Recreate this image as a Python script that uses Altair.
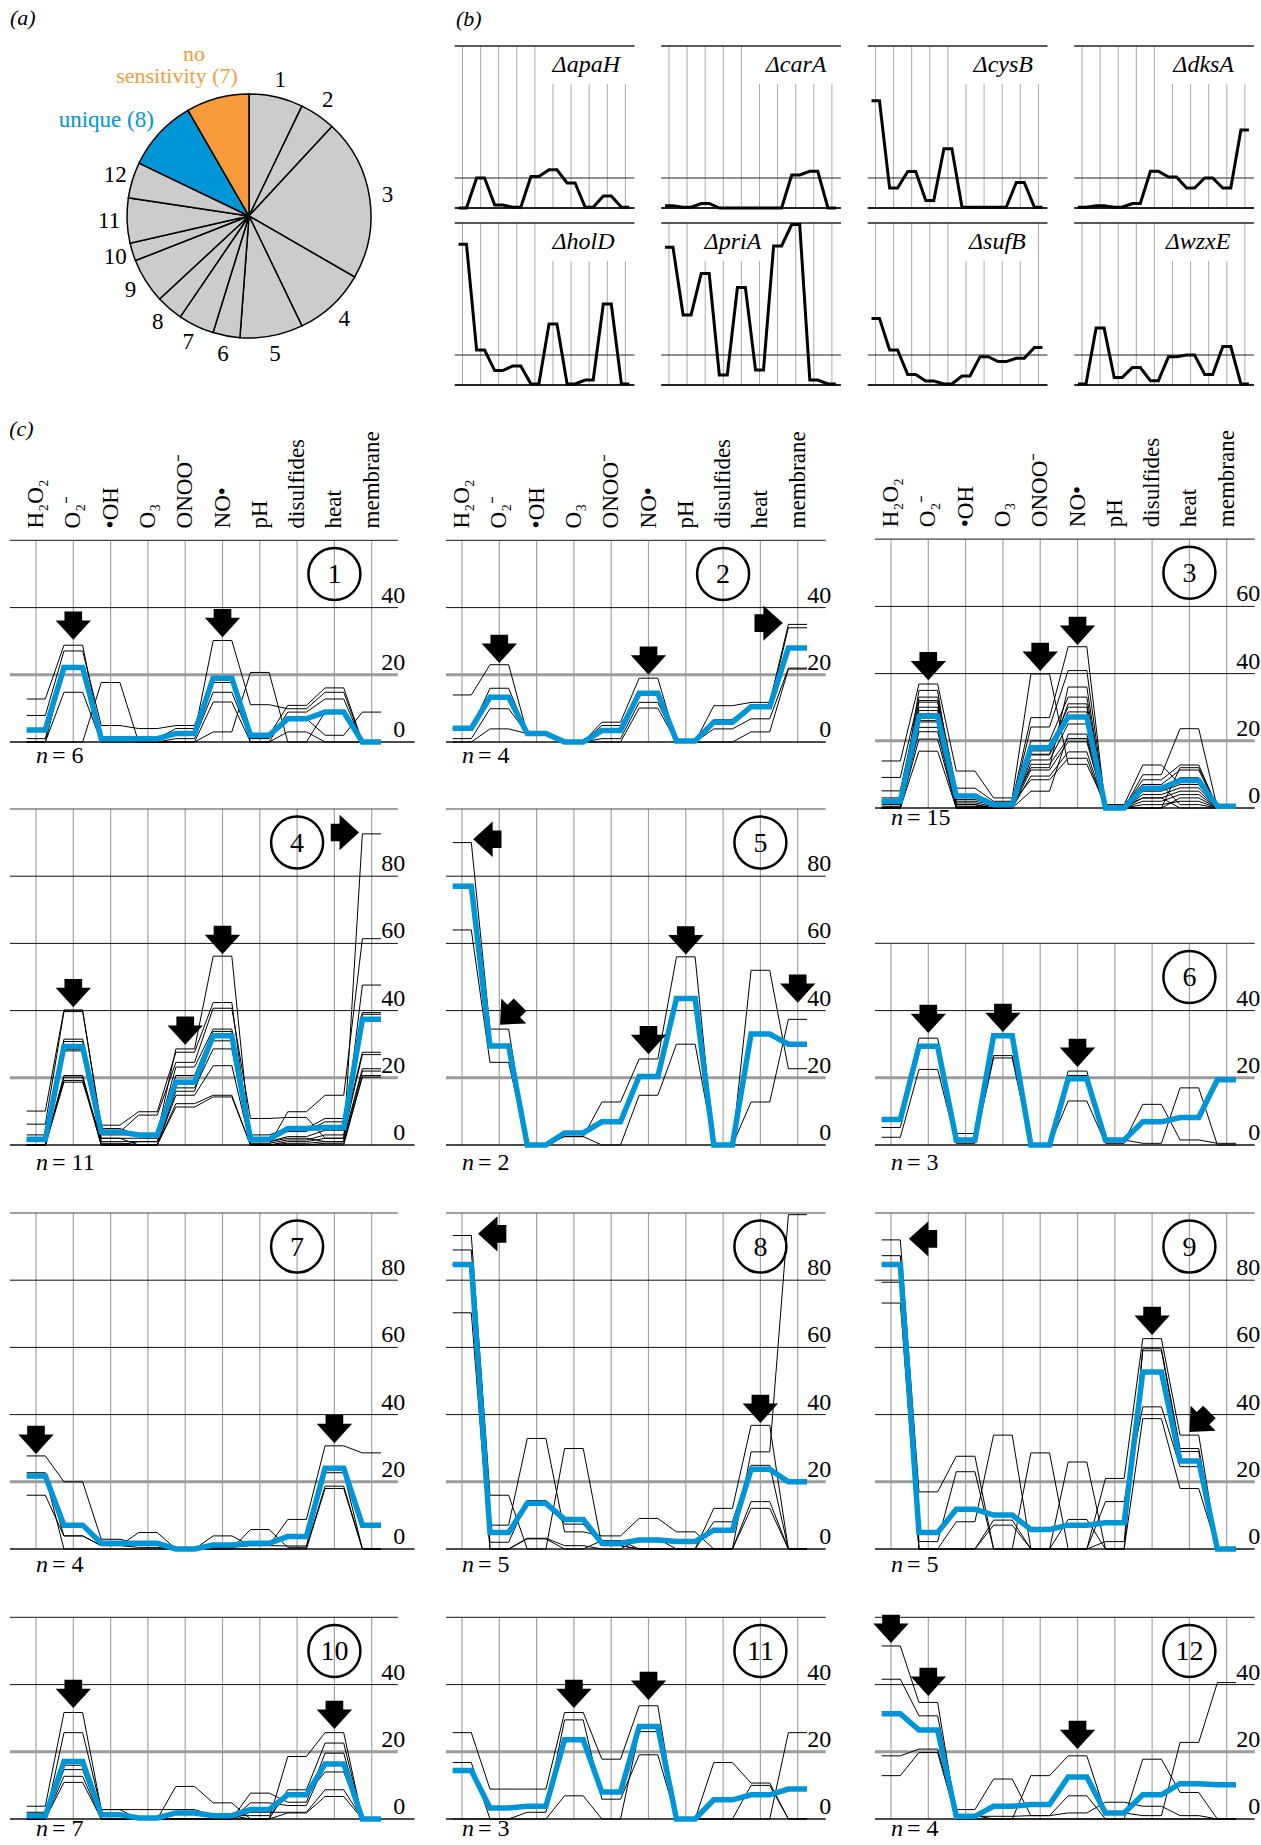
import altair as alt
import pandas as pd

FONT = "Liberation Serif"
BLUE = "#0095d6"
ORANGE = "#f79a3b"
GREY_FILL = "#cccccc"

# ---------------------------------------------------------------- data
CATEGORIES = ["H₂O₂", "O₂⁻", "•OH", "O₃", "ONOO⁻", "NO•", "pH",
              "disulfides", "heat", "membrane"]

# (a) genes per cluster
PIE_NAMES = ["1", "2", "3", "4", "5", "6", "7", "8", "9", "10", "11", "12",
             "unique", "no sensitivity"]
PIE_COUNTS = [6, 4, 18, 8, 7, 3, 4, 3, 5, 2, 5, 4, 8, 7]

# (b) single mutants
MUTANTS = ["ΔapaH", "ΔcarA", "ΔcysB", "ΔdksA", "ΔholD", "ΔpriA", "ΔsufB", "ΔwzxE"]
APAH = [0, 20, 2, 0.5, 21, 25.5, 16.7, 0.5, 8, 0.5]
CARA = [1.5, 0.5, 3, 0, 0, 0, 0, 22, 24.5, 0]
CYSB = [71.5, 13.3, 24.4, 5, 39.5, 0.5, 0.5, 0.5, 17, 0.5]
DKSA = [0.5, 1.5, 0.5, 3, 24.5, 20.6, 13.3, 20, 13.3, 52]
HOLD = [93.8, 23.3, 9.6, 12.7, 0.7, 40.7, 0.7, 3.3, 54, 0.7]
PRIA = [91.8, 46.7, 74.4, 6.7, 65, 10, 92.7, 107, 3.3, 0.7]
SUFB = [44.4, 23.3, 7, 2.7, 0.7, 6, 18.9, 15.6, 17.8, 25]
WZXE = [0.7, 38, 5, 11.6, 2.9, 18.9, 20, 7, 25.6, 0.7]
MUTANT_PROFILES = [APAH, CARA, CYSB, DKSA, HOLD, PRIA, SUFB, WZXE]

# (c) cluster profiles: cluster average and member genes
C1_MEAN = [3.6, 22.2, 1, 1, 2.5, 19, 2, 6.9, 8.9, 0]
C1_GENES = [
    [12.8, 28.8, 1, 1, 2.5, 30.2, 11.1, 9.9, 14.8, 0],
    [7.9, 27.1, 4.9, 4, 4.9, 19, 2, 10.9, 16.1, 0],
    [1, 22, 1, 1, 4, 17.7, 0, 8.9, 12.8, 0],
    [0, 22, 1, 0, 1, 14.8, 1, 6.9, 2, 8.9],
    [0, 14.8, 0, 0, 0, 11.9, 0, 3, 0, 0],
    [0, 0, 17.7, 0, 0, 3, 20.7, 0, 8.9, 0],
]
C1_ARROWS = [(1, 30.4, 0), (5, 31.2, 0)]

C2_MEAN = [4.1, 13.3, 2.5, 0, 3.4, 14.5, 0.3, 5.9, 10.5, 28]
C2_GENES = [
    [14, 23, 2.5, 0, 5.9, 19, 0, 10.8, 11.8, 35],
    [4, 16, 2.5, 0, 4.9, 14.8, 0, 6.6, 10.8, 34],
    [1, 9.9, 2.5, 0, 1, 11.8, 0, 3.9, 6.9, 22],
    [0, 3.9, 2.5, 0, 0, 10.1, 0, 0, 3, 21.7],
]
C2_ARROWS = [(1, 23.5, 0), (5, 20, 0), (8.6, 35.4, 270)]

C3_MEAN = [2, 27.3, 3.6, 1, 17.9, 27.1, 0, 5.9, 8.2, 0.5]
C3_GENES = [
    [14, 36.9, 11, 3, 39.9, 13, 1, 12.8, 7, 0],
    [9.1, 33, 5.9, 2, 26.9, 48, 0, 9.9, 23.6, 0],
    [5.1, 31.5, 3.6, 1, 24.1, 40.9, 0, 8.4, 12.8, 0],
    [3, 30, 2, 1, 20, 33, 1, 7, 11.3, 0],
    [2, 29, 1.5, 0.5, 18, 30, 0, 6, 9, 0],
    [1.5, 27.3, 1, 0, 17, 28.6, 0, 5.9, 8.2, 0],
    [1, 25.6, 1, 0, 15.8, 27, 0, 5, 7, 0],
    [0.5, 24, 0.5, 0, 14.3, 25, 0, 4, 6, 0],
    [0, 22.7, 0, 0, 13, 20.7, 0, 3, 5, 0],
    [0, 20.5, 0, 0, 11.3, 19.7, 0, 2, 4, 0],
    [0, 16.9, 0, 0, 9.5, 16.7, 0, 1, 2, 0],
    [0, 28, 2.5, 1.5, 8.4, 14.8, 0, 0, 3, 0],
    [2, 32, 0, 0, 5, 22, 0.5, 3, 0, 0],
    [0, 26, 4, 0, 16, 31, 0, 0, 12, 0.5],
    [0, 35, 0, 1, 12, 36, 0, 7, 1, 0],
]
C3_ARROWS = [(1, 38, 0), (4, 40.8, 0), (5, 48.5, 0)]

C4_MEAN = [1.7, 29.3, 3.9, 3, 18.7, 32.5, 1.7, 4.9, 5.2, 37.4]
C4_GENES = [
    [10.1, 40.2, 4.9, 3, 28.6, 56.2, 1, 2, 1, 92.6],
    [6.2, 39.7, 5.9, 9.9, 27.6, 42.4, 0, 9.9, 14.8, 61.4],
    [3, 31.5, 3.9, 8.9, 24.6, 40.7, 7.9, 8.2, 2, 47.6],
    [1.7, 30.8, 3, 3, 23.2, 34.5, 3, 4.9, 7.9, 39.4],
    [1, 29.3, 2, 2, 20.7, 33.8, 1.7, 4, 6.9, 38.9],
    [0, 28, 1, 1, 18.7, 31, 1, 2.5, 4.4, 27.6],
    [0, 20.7, 0, 1, 17, 28.6, 0.5, 1.5, 3, 26.9],
    [0, 20.2, 0, 0, 14.8, 23.6, 0, 1, 2, 22.7],
    [0, 19.2, 0, 0, 12.3, 14.8, 0, 0.5, 1, 22],
    [0, 18.7, 2, 0, 11.3, 14.3, 0, 0, 0, 20.7],
    [0, 28.5, 0.5, 0, 16, 32, 0, 0, 0.5, 20.2],
]
C4_ARROWS = [(1, 41, 0), (4, 29.8, 0), (5, 56.8, 0), (8.66, 93, 270)]

C5_MEAN = [77, 29.5, 0, 3.6, 6.9, 20.4, 43.6, 0, 33, 30]
C5_GENES = [
    [90, 34.5, 0, 2.5, 12.8, 25.6, 56, 0, 52, 22.7],
    [64, 24.6, 0, 2.5, 0, 14.8, 30, 0, 12.8, 37.4],
]
C5_ARROWS = [(0.3, 91, 90), (1.02, 35.8, 45), (5, 27, 0), (6, 56.7, 0), (9, 42.3, 0)]

C6_MEAN = [7.6, 29.4, 1.5, 32.5, 0, 19.7, 1.5, 6.9, 8.2, 19.4]
C6_GENES = [
    [7.6, 31.8, 3.4, 32.5, 0, 22, 1, 12.1, 1.5, 0.5],
    [5.2, 29, 1, 26.6, 0, 20.7, 1.5, 0.5, 17, 0],
    [2.3, 22.5, 0.5, 25.9, 0, 13.1, 0.5, 6.9, 8.2, 19.4],
]
C6_ARROWS = [(1, 33.3, 0), (3, 33.6, 0), (5, 23.2, 0)]

C7_MEAN = [21.7, 7.1, 1.7, 1.7, 0, 1.2, 1.7, 3.7, 24, 7.1]
C7_GENES = [
    [27.7, 20, 2.9, 1.5, 0, 0.5, 1, 8.8, 30.7, 28.6],
    [22.7, 3.9, 1, 4.9, 0, 3.9, 1, 0.9, 22.7, 0],
    [16, 3.9, 1, 0.5, 0, 0, 5.8, 0.5, 18.7, 0],
    [21.7, 0, 0, 0, 0, 0, 0, 0, 18, 0],
]
C7_ARROWS = [(0, 28.3, 0), (8, 31.5, 0)]

C8_MEAN = [84.7, 4.9, 13.6, 8.8, 1.7, 2.7, 2.2, 5.6, 23.7, 20]
C8_GENES = [
    [93.3, 16, 0, 29.9, 1, 0, 0, 12.1, 36.8, 0],
    [89, 7.1, 32.9, 5.1, 3.9, 9.1, 5.1, 0, 28.9, 99.5],
    [84.7, 2, 14.4, 7.4, 1, 0, 0, 8.1, 24.9, 0],
    [70.3, 0, 3.2, 1, 0, 3, 0, 0, 14.1, 0],
    [84.7, 0, 3, 0, 2.5, 0, 0, 0, 12.1, 0],
]
C8_ARROWS = [(0.43, 93.8, 90), (8, 37.5, 0)]

C9_MEAN = [84.7, 4.9, 11.8, 10.1, 5.8, 7.1, 7.8, 52.7, 26.2, 0]
C9_GENES = [
    [92, 17, 27.6, 0, 0, 0, 21, 62.6, 33.9, 0],
    [87.3, 2.2, 23, 0, 28.6, 0, 2.2, 59.6, 29.9, 0],
    [79.4, 0, 8.1, 33.9, 0, 0, 14.1, 42.3, 24.5, 0],
    [73.2, 0, 0, 8.6, 0, 25.9, 0, 38.8, 18, 0],
    [84.7, 0, 0, 7.1, 0, 8.8, 0, 59, 29, 0],
]
C9_ARROWS = [(0.48, 92.3, 90), (7, 63.7, 0), (8, 34.8, 45)]

C10_MEAN = [1, 17.1, 1.3, 0.3, 1.8, 1, 2.8, 7.2, 16.4, 0]
C10_GENES = [
    [3.8, 31.7, 2.8, 2.8, 2.8, 1, 0, 18.6, 25.7, 0],
    [0, 25.7, 2.8, 0, 9.7, 4.8, 0, 8.7, 22.6, 0],
    [1, 17, 1, 0, 0, 0, 7.7, 5, 19.6, 0],
    [0, 14.7, 0, 0, 0, 0, 4.8, 4, 16.4, 0],
    [0, 12.7, 0, 0, 0, 0, 2, 2, 8.7, 0],
    [0, 10.9, 0, 0, 0, 0, 0, 1.8, 6.7, 0],
    [2, 16, 1.5, 0.5, 1.8, 1, 1, 7.2, 14, 0],
]
C10_ARROWS = [(1, 33, 0), (8, 26.8, 0)]

C11_MEAN = [14.4, 3.3, 3.8, 23.6, 8, 27.5, 0, 5.7, 7.2, 8.9]
C11_GENES = [
    [25.7, 8.9, 8.9, 31.7, 17.8, 33.7, 0, 16.8, 10.7, 0],
    [16.8, 0, 2, 29.5, 5.9, 19.1, 0, 0, 0, 25.7],
    [0, 0, 0, 6.9, 0, 26, 0, 0, 10, 0],
]
C11_ARROWS = [(3, 33, 0), (5, 35.4, 0)]

C12_MEAN = [31.3, 26.5, 0.8, 3.8, 4.3, 12.5, 1.8, 7.2, 10.5, 10.2]
C12_GENES = [
    [51.5, 34.7, 1, 0, 12.9, 18.8, 1.8, 1, 22.8, 40.6],
    [41.6, 30.7, 2.8, 11.9, 1, 6.9, 0, 17.8, 7.9, 0],
    [18.8, 20.8, 0.8, 0.8, 1, 1.8, 5, 3.8, 1, 0],
    [12.9, 19.8, 0, 0, 0, 0, 0, 0, 0, 0],
]
C12_ARROWS = [(0, 52.4, 0), (1, 36.6, 0), (5, 20.8, 0)]

CLUSTERS = [
    (C1_MEAN, C1_GENES, C1_ARROWS), (C2_MEAN, C2_GENES, C2_ARROWS),
    (C3_MEAN, C3_GENES, C3_ARROWS), (C4_MEAN, C4_GENES, C4_ARROWS),
    (C5_MEAN, C5_GENES, C5_ARROWS), (C6_MEAN, C6_GENES, C6_ARROWS),
    (C7_MEAN, C7_GENES, C7_ARROWS), (C8_MEAN, C8_GENES, C8_ARROWS),
    (C9_MEAN, C9_GENES, C9_ARROWS), (C10_MEAN, C10_GENES, C10_ARROWS),
    (C11_MEAN, C11_GENES, C11_ARROWS), (C12_MEAN, C12_GENES, C12_ARROWS),
]

# ---------------------------------------------------------------- layout
# (c) grid: column, baseline row, axis top, stressor carrying the circled
#           number, gap below the baseline for the n label
C_X0 = [36, 462, 891]
C_XL = [-0.7, -0.43, -0.43]
C_XR = [9.7, 9.75, 9.75]
C_STEP = 37.3
C_PX = 3.36
C_LAYOUT = [
    (0, 742, 60, 8, 21), (1, 742, 60, 7, 21), (2, 808, 80, 8, 17),
    (0, 1145, 100, 7, 25), (1, 1145, 100, 8, 25), (2, 1145, 60, 8, 25),
    (0, 1549, 100, 7, 23), (1, 1549, 100, 8, 23), (2, 1549, 100, 8, 23),
    (0, 1819, 60, 8, 17), (1, 1819, 60, 8, 17), (2, 1819, 60, 8, 17),
]

B_LEFT = [455, 661.5, 868, 1074.5]
B_ZERO = [208, 385]
B_STEP = 18.1
B_PX = 1.5
B_TOP = 108
# right end of each mutant name, in stressor units
B_TITLE_END = [8.7, 8.7, 8.7, 8.4, 8.4, 5.1, 8.3, 8.2]

PIE_CX, PIE_CY, PIE_R = 249, 216, 122

# block arrow, tip at the origin, pointing down
ARROW = "M0,0 L-1,-1.1 L-0.5,-1.1 L-0.5,-1.6 L0.5,-1.6 L0.5,-1.1 L1,-1.1 Z"


def plateau_frame(rows, half):
    recs = []
    for k, values in enumerate(rows):
        for i, v in enumerate(values):
            for off in (-half, half):
                recs.append({"series": k, "pos": i + off, "value": v})
    return pd.DataFrame(recs)


def cluster_panel(num, mean, genes, arrows, col, zero_px, top, circle_pos, n_dy):
    xs = alt.Scale(domain=[0, 9], range=[C_X0[col], C_X0[col] + 9 * C_STEP], nice=False)
    ys = alt.Scale(domain=[0, top], range=[zero_px, zero_px - top * C_PX], nice=False)

    def X(f):
        return alt.X(f, type="quantitative", scale=xs, axis=None)

    def Y(f):
        return alt.Y(f, type="quantitative", scale=ys, axis=None)

    layers = []
    vgrid = pd.DataFrame({"pos": list(range(10)), "lo": 0, "hi": top})
    layers.append(alt.Chart(vgrid).mark_rule(color="#a3a3a3", strokeWidth=1.2).encode(
        x=X("pos"), y=Y("lo"), y2=alt.Y2("hi")))

    levels = list(range(0, top + 1, 20))
    hgrid = pd.DataFrame({
        "level": levels,
        "xa": C_XL[col],
        "xb": [C_XR[col] + (0.45 if (l == 0 and col == 0) else 0) for l in levels],
        "stroke": ["#111111" if l == 0 else "#9b9b9b" if l == 20 else
                   "#444444" if l == top else "#111111" for l in levels],
        "w": [1.4 if l == 0 else 3 if l == 20 else 1.2 if l == top else 1 for l in levels],
    })
    layers.append(alt.Chart(hgrid).mark_rule().encode(
        y=Y("level"), x=X("xa"), x2=alt.X2("xb"),
        color=alt.Color("stroke:N", scale=None),
        strokeWidth=alt.StrokeWidth("w:Q", scale=None)))

    ticks = pd.DataFrame({"level": [l for l in levels if l < top]})
    ticks["pos"] = 9.9
    ticks["txt"] = ticks["level"].astype(str)
    layers.append(alt.Chart(ticks).mark_text(
        align="right", baseline="bottom", font=FONT, fontSize=24, color="black").encode(
        x=X("pos"), y=Y("level"), text="txt:N"))

    if num <= 3:
        hdr = pd.DataFrame({"pos": list(range(10)), "lvl": top, "name": CATEGORIES})
        layers.append(alt.Chart(hdr).mark_text(
            angle=270, align="left", baseline="middle", dx=12, font=FONT,
            fontSize=23, color="black").encode(x=X("pos"), y=Y("lvl"), text="name:N"))

    layers.append(alt.Chart(plateau_frame(genes, 0.25)).mark_line(
        color="black", strokeWidth=1).encode(
        x=X("pos"), y=Y("value"), detail="series:N", order="pos:Q"))
    layers.append(alt.Chart(plateau_frame([mean], 0.25)).mark_line(
        color=BLUE, strokeWidth=5.5).encode(
        x=X("pos"), y=Y("value"), order="pos:Q"))

    arr = pd.DataFrame(arrows, columns=["pos", "value", "ang"])
    layers.append(alt.Chart(arr).mark_point(
        shape=ARROW, filled=True, color="black", opacity=1, size=1250).encode(
        x=X("pos"), y=Y("value"), angle=alt.Angle("ang:Q", scale=None)))

    badge = pd.DataFrame({"pos": [circle_pos], "lvl": [top - 10], "txt": [str(num)]})
    layers.append(alt.Chart(badge).mark_point(
        shape="circle", filled=False, color="black", strokeWidth=2.5, opacity=1,
        size=2704).encode(x=X("pos"), y=Y("lvl")))
    layers.append(alt.Chart(badge).mark_text(
        font=FONT, fontSize=28, baseline="middle", dy=1, color="black").encode(
        x=X("pos"), y=Y("lvl"), text="txt:N"))

    nlab = pd.DataFrame({"pos": [0], "lvl": [0], "txt": [f"= {len(genes)}"]})
    layers.append(alt.Chart(nlab).mark_text(
        text="n", font=FONT, fontSize=24, fontStyle="italic", align="left",
        baseline="alphabetic", dy=n_dy, color="black").encode(x=X("pos"), y=Y("lvl")))
    layers.append(alt.Chart(nlab).mark_text(
        font=FONT, fontSize=24, align="left", baseline="alphabetic", dx=16, dy=n_dy,
        color="black").encode(x=X("pos"), y=Y("lvl"), text="txt:N"))

    if num == 1:
        tag = pd.DataFrame({"pos": [-0.72], "lvl": [93.2]})
        layers.append(alt.Chart(tag).mark_text(
            text="(c)", font=FONT, fontSize=22, fontStyle="italic", align="left",
            baseline="middle", color="black").encode(x=X("pos"), y=Y("lvl")))

    return alt.layer(*layers)


def mutant_panel(idx, name, values):
    r, c = divmod(idx, 4)
    x0 = B_LEFT[c] + 7.5
    zero = B_ZERO[r]
    xs = alt.Scale(domain=[0, 9], range=[x0, x0 + 9 * B_STEP], nice=False)
    ys = alt.Scale(domain=[0, B_TOP], range=[zero, zero - B_TOP * B_PX], nice=False)

    def X(f):
        return alt.X(f, type="quantitative", scale=xs, axis=None)

    def Y(f):
        return alt.Y(f, type="quantitative", scale=ys, axis=None)

    end = B_TITLE_END[idx]
    layers = []
    vgrid = pd.DataFrame({"pos": list(range(10)), "lo": 0,
                          "hi": [82.7 if end - 3.9 <= i <= end + 0.6 else B_TOP
                                 for i in range(10)]})
    layers.append(alt.Chart(vgrid).mark_rule(color="#ababab", strokeWidth=1).encode(
        x=X("pos"), y=Y("lo"), y2=alt.Y2("hi")))
    hgrid = pd.DataFrame({"level": [0, 20, B_TOP], "xa": -0.43, "xb": 9.5,
                          "w": [2, 1.2, 1.5]})
    layers.append(alt.Chart(hgrid).mark_rule(color="#222222").encode(
        y=Y("level"), x=X("xa"), x2=alt.X2("xb"),
        strokeWidth=alt.StrokeWidth("w:Q", scale=None)))
    layers.append(alt.Chart(plateau_frame([values], 0.22)).mark_line(
        color="black", strokeWidth=3).encode(x=X("pos"), y=Y("value"), order="pos:Q"))
    title = pd.DataFrame({"pos": [end], "lvl": [91], "txt": [name]})
    layers.append(alt.Chart(title).mark_text(
        font=FONT, fontSize=24, fontStyle="italic", align="right", baseline="alphabetic",
        color="black").encode(x=X("pos"), y=Y("lvl"), text="txt:N"))
    if idx == 0:
        tag = pd.DataFrame({"pos": [-0.36], "lvl": [126]})
        layers.append(alt.Chart(tag).mark_text(
            text="(b)", font=FONT, fontSize=22, fontStyle="italic", align="left",
            baseline="middle", color="black").encode(x=X("pos"), y=Y("lvl")))
    return alt.layer(*layers)


def pie_panel():
    pxs = alt.Scale(domain=[-1, 1], range=[PIE_CX - PIE_R, PIE_CX + PIE_R], nice=False)
    pys = alt.Scale(domain=[-1, 1], range=[PIE_CY + PIE_R, PIE_CY - PIE_R], nice=False)
    df = pd.DataFrame({"name": PIE_NAMES, "count": PIE_COUNTS,
                       "idx": list(range(len(PIE_NAMES)))})
    df["group"] = ["cluster"] * 12 + ["unique", "none"]
    df["num"] = [n if i < 12 else "" for i, n in enumerate(PIE_NAMES)]
    cx = alt.X(datum=0, type="quantitative", scale=pxs, axis=None)
    cy = alt.Y(datum=0, type="quantitative", scale=pys, axis=None)
    base = alt.Chart(df).encode(
        theta=alt.Theta("count:Q", stack=True), order=alt.Order("idx:Q"), x=cx, y=cy)
    arcs = base.mark_arc(radius=PIE_R, stroke="black", strokeWidth=1.5).encode(
        color=alt.Color("group:N", legend=None,
                        scale=alt.Scale(domain=["cluster", "unique", "none"],
                                        range=[GREY_FILL, BLUE, ORANGE])))
    nums = base.mark_text(radius=140, font=FONT, fontSize=23, color="black",
                          baseline="middle").encode(text="num:N")

    def note(txt, px, py, colour, align, size=23, italic=False):
        d = pd.DataFrame({"px": [px], "py": [py]})
        return alt.Chart(d).mark_text(
            text=txt, font=FONT, fontSize=size, color=colour,
            align=align, baseline="middle",
            fontStyle="italic" if italic else "normal").encode(
            x=alt.X("px:Q", scale=pxs, axis=None), y=alt.Y("py:Q", scale=pys, axis=None))

    return alt.layer(
        arcs, nums,
        note("unique (8)", -0.78, 0.79, BLUE, "right"),
        note("no", -0.45, 1.33, ORANGE, "center", size=22),
        note("sensitivity (7)", -0.59, 1.145, ORANGE, "center", size=22),
        note("(a)", -1.96, 1.62, "black", "left", size=22, italic=True),
    )


panels = [pie_panel()]
for i, (name, prof) in enumerate(zip(MUTANTS, MUTANT_PROFILES)):
    panels.append(mutant_panel(i, name, prof))
for k, ((mean, genes, arrows), (col, zero_px, top, cpos, ndy)) in enumerate(
        zip(CLUSTERS, C_LAYOUT)):
    panels.append(cluster_panel(k + 1, mean, genes, arrows, col, zero_px, top, cpos, ndy))

chart = (
    alt.layer(*panels)
    .resolve_scale(x="independent", y="independent")
    .properties(width=1261, height=1845, padding=0, background="white",
                autosize=alt.AutoSizeParams(type="none"))
    .configure_view(stroke=None)
)

chart.save("out.html", embed_options={"renderer": "svg", "actions": False})
